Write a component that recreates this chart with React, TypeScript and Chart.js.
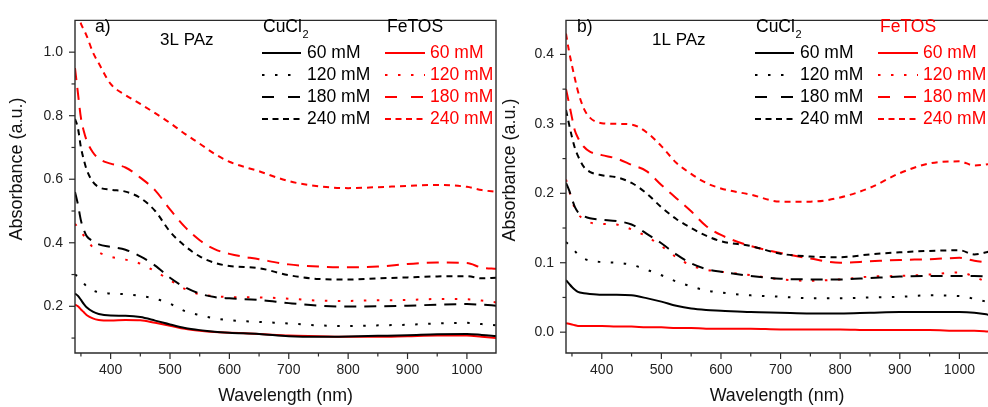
import React, { useEffect, useRef } from 'react';
import { Chart, registerables } from 'chart.js';

Chart.register(...registerables);

const FAM = "Arial, 'Liberation Sans', sans-serif";
const BLACK = '#000000';
const RED = '#ff0000';

const wavelength = [340, 345, 350, 355, 360, 370, 380, 400, 425, 450, 475, 500, 525, 550, 575, 600, 650, 700, 750, 800, 850, 900, 950, 1000, 1025, 1050];

// Panel a) 3L PAz
const aCuCl2_60 = [0.24, 0.233, 0.22, 0.207, 0.196, 0.183, 0.176, 0.171, 0.17, 0.166, 0.155, 0.143, 0.132, 0.125, 0.12, 0.117, 0.113, 0.106, 0.104, 0.105, 0.107, 0.109, 0.112, 0.113, 0.11, 0.106];
const aCuCl2_120 = [0.3, 0.294, 0.285, 0.272, 0.262, 0.25, 0.244, 0.24, 0.238, 0.233, 0.224, 0.208, 0.185, 0.172, 0.162, 0.156, 0.151, 0.146, 0.14, 0.138, 0.14, 0.142, 0.146, 0.148, 0.144, 0.14];
const aCuCl2_180 = [0.56, 0.52, 0.47, 0.44, 0.42, 0.405, 0.395, 0.387, 0.378, 0.357, 0.328, 0.29, 0.26, 0.24, 0.229, 0.225, 0.22, 0.21, 0.202, 0.199, 0.2, 0.202, 0.205, 0.207, 0.205, 0.202];
const aCuCl2_240 = [0.79, 0.76, 0.7, 0.66, 0.628, 0.592, 0.575, 0.567, 0.561, 0.541, 0.5, 0.435, 0.39, 0.357, 0.337, 0.327, 0.32, 0.298, 0.286, 0.284, 0.288, 0.291, 0.294, 0.295, 0.288, 0.29];
const aFeTOS_60 = [0.205, 0.2, 0.19, 0.181, 0.172, 0.162, 0.157, 0.155, 0.157, 0.156, 0.148, 0.139, 0.129, 0.123, 0.119, 0.117, 0.113, 0.108, 0.106, 0.104, 0.104, 0.106, 0.108, 0.108, 0.104, 0.1];
const aFeTOS_120 = [0.46, 0.447, 0.435, 0.422, 0.41, 0.385, 0.37, 0.356, 0.347, 0.334, 0.31, 0.282, 0.255, 0.238, 0.232, 0.229, 0.228, 0.224, 0.218, 0.217, 0.219, 0.22, 0.223, 0.222, 0.218, 0.212];
const aFeTOS_180 = [0.95, 0.87, 0.793, 0.75, 0.72, 0.685, 0.665, 0.649, 0.637, 0.605, 0.565, 0.505, 0.45, 0.408, 0.38, 0.365, 0.348, 0.332, 0.325, 0.323, 0.325, 0.333, 0.338, 0.336, 0.322, 0.318];
const aFeTOS_240 = [1.16, 1.12, 1.09, 1.07, 1.05, 1.0, 0.965, 0.9, 0.865, 0.837, 0.808, 0.777, 0.743, 0.712, 0.68, 0.655, 0.625, 0.594, 0.578, 0.572, 0.575, 0.579, 0.582, 0.576, 0.566, 0.56];

// Panel b) 1L PAz
const bCuCl2_60 = [0.075, 0.07, 0.065, 0.061, 0.058, 0.056, 0.055, 0.054, 0.054, 0.053, 0.049, 0.044, 0.038, 0.034, 0.032, 0.031, 0.029, 0.028, 0.027, 0.027, 0.028, 0.029, 0.029, 0.029, 0.028, 0.025];
const bCuCl2_120 = [0.13, 0.126, 0.123, 0.117, 0.112, 0.106, 0.103, 0.101, 0.1, 0.097, 0.09, 0.082, 0.073, 0.066, 0.06, 0.057, 0.053, 0.051, 0.049, 0.049, 0.05, 0.051, 0.053, 0.052, 0.048, 0.043];
const bCuCl2_180 = [0.215, 0.205, 0.192, 0.18, 0.173, 0.167, 0.164, 0.162, 0.16, 0.155, 0.142, 0.128, 0.112, 0.099, 0.091, 0.087, 0.081, 0.077, 0.076, 0.076, 0.078, 0.08, 0.081, 0.081, 0.081, 0.08];
const bCuCl2_240 = [0.32, 0.3, 0.281, 0.265, 0.254, 0.238, 0.231, 0.226, 0.223, 0.215, 0.2, 0.18, 0.163, 0.15, 0.139, 0.131, 0.124, 0.113, 0.109, 0.108, 0.112, 0.115, 0.117, 0.118, 0.112, 0.116];
const bFeTOS_60 = [0.013, 0.012, 0.011, 0.01, 0.009, 0.009, 0.009, 0.009, 0.008, 0.008, 0.007, 0.007, 0.006, 0.006, 0.005, 0.005, 0.005, 0.004, 0.004, 0.004, 0.003, 0.003, 0.003, 0.002, 0.002, 0.001];
const bFeTOS_120 = [0.22, 0.205, 0.19, 0.178, 0.17, 0.163, 0.158, 0.156, 0.155, 0.148, 0.138, 0.124, 0.108, 0.096, 0.09, 0.087, 0.082, 0.076, 0.074, 0.076, 0.08, 0.081, 0.083, 0.086, 0.08, 0.07];
const bFeTOS_180 = [0.35, 0.33, 0.309, 0.29, 0.28, 0.267, 0.26, 0.255, 0.25, 0.241, 0.232, 0.212, 0.193, 0.174, 0.153, 0.14, 0.124, 0.114, 0.106, 0.1, 0.102, 0.104, 0.105, 0.107, 0.103, 0.1];
const bFeTOS_240 = [0.43, 0.405, 0.384, 0.365, 0.347, 0.322, 0.309, 0.301, 0.3, 0.299, 0.288, 0.268, 0.244, 0.228, 0.215, 0.207, 0.198, 0.188, 0.188, 0.194, 0.208, 0.229, 0.243, 0.246, 0.24, 0.242];

const concentrations = ['60 mM', '120 mM', '180 mM', '240 mM'];
const xMajorTicks = [400, 500, 600, 700, 800, 900, 1000];
const xMinorTicks = [350, 450, 550, 650, 750, 850, 950, 1050];
const aYMajorTicks = [0.2, 0.4, 0.6, 0.8, 1.0];
const aYMinorTicks = [0.1, 0.3, 0.5, 0.7, 0.9];
const bYMajorTicks = [0.0, 0.1, 0.2, 0.3, 0.4];
const bYMinorTicks = [0.05, 0.15, 0.25, 0.35];

const lineDash = [[], [2.5, 10.5], [12, 8], [6, 5]];
const legendDash = [[], [2.5, 10.5], [12, 14], [6, 4.5]];

type PanelCfg = {
  cu: number[][];
  fe: number[][];
  yMin: number;
  yMax: number;
  xMax: number;
  yMajor: number[];
  yMinor: number[];
  yWidth: number;
  padRight: number;
  yTitleX: number;
  yTitleY: number;
  rightSpine: boolean;
  panelLabel: string;
  panelLabelX: number;
  sample: string;
  sampleX: number;
  cuX: number;
  feX: number;
  feHeaderColor: string;
  blackLineX: number;
  redLineX: number;
  blackTextX: number;
  redTextX: number;
};

function decorPlugin(cfg: PanelCfg) {
  return {
    id: 'decor',
    afterDraw(chart: any) {
      const { ctx, chartArea: ca, scales } = chart;
      const xs = scales.x;
      const ys = scales.y;
      ctx.save();
      ctx.strokeStyle = '#2b2b2b';
      ctx.lineWidth = 1.4;
      ctx.setLineDash([]);
      ctx.beginPath();
      if (cfg.rightSpine) {
        ctx.rect(ca.left, ca.top, ca.right - ca.left, ca.bottom - ca.top);
      } else {
        ctx.moveTo(ca.right + 2, ca.top);
        ctx.lineTo(ca.left, ca.top);
        ctx.lineTo(ca.left, ca.bottom);
        ctx.lineTo(ca.right + 2, ca.bottom);
      }
      ctx.stroke();

      ctx.lineWidth = 1.2;
      const xt = (vals: number[], len: number) => {
        vals.forEach((v) => {
          const p = xs.getPixelForValue(v);
          if (p < ca.left - 0.5 || p > ca.right + 0.5) return;
          ctx.beginPath();
          ctx.moveTo(p, ca.bottom);
          ctx.lineTo(p, ca.bottom + len);
          ctx.stroke();
        });
      };
      const yt = (vals: number[], len: number) => {
        vals.forEach((v) => {
          const p = ys.getPixelForValue(v);
          if (p < ca.top - 0.5 || p > ca.bottom + 0.5) return;
          ctx.beginPath();
          ctx.moveTo(ca.left, p);
          ctx.lineTo(ca.left - len, p);
          ctx.stroke();
        });
      };
      xt(xMajorTicks, 6);
      xt(xMinorTicks, 3.5);
      yt(cfg.yMajor, 6);
      yt(cfg.yMinor, 3.5);

      // y axis title
      ctx.save();
      ctx.translate(cfg.yTitleX, cfg.yTitleY);
      ctx.rotate(-Math.PI / 2);
      ctx.textAlign = 'center';
      ctx.textBaseline = 'middle';
      ctx.fillStyle = '#111';
      ctx.font = `18px ${FAM}`;
      ctx.fillText('Absorbance (a.u.)', 0, 0);
      ctx.restore();

      // legend / annotations
      ctx.textBaseline = 'middle';
      ctx.textAlign = 'left';
      ctx.font = `17.5px ${FAM}`;
      ctx.fillStyle = '#000';
      ctx.fillText(cfg.panelLabel, cfg.panelLabelX, 27);
      ctx.font = `17px ${FAM}`;
      ctx.fillText(cfg.sample, cfg.sampleX, 40);
      ctx.font = `17.5px ${FAM}`;
      ctx.fillText('CuCl', cfg.cuX, 27);
      const w = ctx.measureText('CuCl').width;
      ctx.font = `11px ${FAM}`;
      ctx.fillText('2', cfg.cuX + w + 0.5, 35);
      ctx.font = `17.5px ${FAM}`;
      ctx.fillStyle = cfg.feHeaderColor;
      ctx.fillText('FeTOS', cfg.feX, 27);

      const rowsY = [53, 75, 97, 119];
      concentrations.forEach((label, i) => {
        const y = rowsY[i];
        ctx.lineWidth = 2.2;
        ctx.setLineDash(legendDash[i]);
        ctx.strokeStyle = BLACK;
        ctx.beginPath();
        ctx.moveTo(cfg.blackLineX, y);
        ctx.lineTo(cfg.blackLineX + 39, y);
        ctx.stroke();
        ctx.strokeStyle = RED;
        ctx.beginPath();
        ctx.moveTo(cfg.redLineX, y);
        ctx.lineTo(cfg.redLineX + 40, y);
        ctx.stroke();
        ctx.setLineDash([]);
        ctx.fillStyle = BLACK;
        ctx.fillText(label, cfg.blackTextX, y);
        ctx.fillStyle = RED;
        ctx.fillText(label, cfg.redTextX, y);
      });
      ctx.restore();
    },
  };
}

function makeDataset(vals: number[], color: string, idx: number) {
  return {
    data: wavelength.map((w, i) => ({ x: w, y: vals[i] })),
    borderColor: color,
    backgroundColor: color,
    borderWidth: 2,
    borderDash: lineDash[idx],
    borderCapStyle: 'butt',
    pointRadius: 0,
    fill: false,
    cubicInterpolationMode: 'monotone',
  };
}

function buildChart(canvas: HTMLCanvasElement, cfg: PanelCfg) {
  const datasets: any[] = [];
  cfg.cu.forEach((v, i) => datasets.push(makeDataset(v, BLACK, i)));
  cfg.fe.forEach((v, i) => datasets.push(makeDataset(v, RED, i)));
  return new Chart(canvas, {
    type: 'line',
    data: { datasets },
    options: {
      responsive: false,
      animation: false,
      devicePixelRatio: 1,
      layout: { padding: { left: 0, right: cfg.padRight, top: 14, bottom: 0 } },
      plugins: { legend: { display: false }, tooltip: { enabled: false } },
      scales: {
        x: {
          type: 'linear',
          min: 340,
          max: cfg.xMax,
          bounds: 'data',
          afterBuildTicks: (s: any) => {
            s.ticks = xMajorTicks.map((v) => ({ value: v }));
          },
          afterFit: (s: any) => {
            s.height = 54;
          },
          grid: { display: false, drawTicks: false },
          border: { display: false },
          ticks: {
            padding: 9,
            autoSkip: false,
            maxRotation: 0,
            color: '#222',
            font: { size: 14, family: FAM },
            callback: (v: any) => String(v),
          },
          title: {
            display: true,
            text: 'Wavelength (nm)',
            color: '#111',
            font: { size: 17.8, family: FAM },
            padding: { top: 0, bottom: 0 },
          },
        },
        y: {
          type: 'linear',
          min: cfg.yMin,
          max: cfg.yMax,
          bounds: 'data',
          afterBuildTicks: (s: any) => {
            s.ticks = cfg.yMajor.map((v) => ({ value: v }));
          },
          afterFit: (s: any) => {
            s.width = cfg.yWidth;
          },
          grid: { display: false, drawTicks: false },
          border: { display: false },
          ticks: {
            padding: 12,
            autoSkip: false,
            color: '#222',
            font: { size: 14, family: FAM },
            callback: (v: any) => Number(v).toFixed(1),
          },
          title: { display: false },
        },
      },
    } as any,
    plugins: [decorPlugin(cfg) as any],
  });
}

const panelA: PanelCfg = {
  cu: [aCuCl2_60, aCuCl2_120, aCuCl2_180, aCuCl2_240],
  fe: [aFeTOS_60, aFeTOS_120, aFeTOS_180, aFeTOS_240],
  yMin: 0.053,
  yMax: 1.1,
  xMax: 1049,
  yMajor: aYMajorTicks,
  yMinor: aYMinorTicks,
  yWidth: 75,
  padRight: 4,
  yTitleX: 17,
  yTitleY: 169,
  rightSpine: true,
  panelLabel: 'a)',
  panelLabelX: 95,
  sample: '3L PAz',
  sampleX: 160,
  cuX: 263,
  feX: 387,
  feHeaderColor: BLACK,
  blackLineX: 262,
  redLineX: 385,
  blackTextX: 307,
  redTextX: 430,
};

const panelB: PanelCfg = {
  cu: [bCuCl2_60, bCuCl2_120, bCuCl2_180, bCuCl2_240],
  fe: [bFeTOS_60, bFeTOS_120, bFeTOS_180, bFeTOS_240],
  yMin: -0.03,
  yMax: 0.449,
  xMax: 1048,
  yMajor: bYMajorTicks,
  yMinor: bYMinorTicks,
  yWidth: 66,
  padRight: 0,
  yTitleX: 10,
  yTitleY: 170,
  rightSpine: false,
  panelLabel: 'b)',
  panelLabelX: 77,
  sample: '1L PAz',
  sampleX: 152,
  cuX: 256,
  feX: 380,
  feHeaderColor: RED,
  blackLineX: 255,
  redLineX: 378,
  blackTextX: 300,
  redTextX: 423,
};

export default function App() {
  const refA = useRef<HTMLCanvasElement>(null);
  const refB = useRef<HTMLCanvasElement>(null);
  useEffect(() => {
    const ca = buildChart(refA.current as HTMLCanvasElement, panelA);
    const cb = buildChart(refB.current as HTMLCanvasElement, panelB);
    return () => {
      ca.destroy();
      cb.destroy();
    };
  }, []);
  return (
    <div style={{ position: 'fixed', left: 0, top: 0, width: 988, height: 407, background: '#fff', overflow: 'hidden' }}>
      <canvas ref={refA} width={500} height={407} style={{ position: 'absolute', left: 0, top: 0, width: 500, height: 407 }} />
      <canvas ref={refB} width={488} height={407} style={{ position: 'absolute', left: 500, top: 0, width: 488, height: 407 }} />
    </div>
  );
}
